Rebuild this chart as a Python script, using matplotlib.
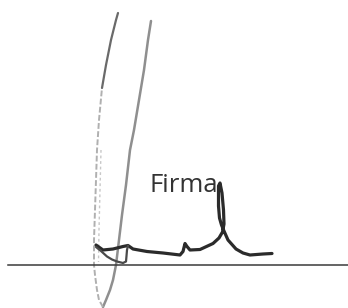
import matplotlib
matplotlib.use('Agg')
import matplotlib.pyplot as plt

# signature label and baseline
label_text = "Firma"
line_x = [8, 348]
line_y = [265, 265]

# pencil loop (light grey), image pixel coords, y down
pencil_right_x = [151, 148, 144, 139, 134, 130, 126, 122, 119, 116, 113, 110, 106, 103]
pencil_right_y = [21, 40, 70, 100, 130, 150, 185, 215, 240, 265, 280, 290, 300, 307]
pencil_low_x = [103, 99, 97, 95, 94, 94, 95, 96, 97, 99, 102]
pencil_low_y = [307, 300, 290, 275, 265, 240, 210, 180, 150, 120, 88]
pencil_top_x = [102, 106, 111, 116, 118]
pencil_top_y = [88, 65, 40, 20, 13]
pencil_inner_x = [101, 100, 99, 98.5]
pencil_inner_y = [150, 190, 230, 262]

# ink stroke (dark)
ink_x = [96, 103, 113, 123, 128, 133, 147, 163, 180, 183, 185, 187, 190, 200,
         213, 219, 222.5, 224, 223.5, 222, 220, 218.5, 218.5, 219.5, 221.5, 224,
         228, 236, 243, 250, 263, 272]
ink_y = [245, 250, 249, 246.5, 245.5, 249, 251.5, 253, 255, 251.5, 243.5, 246.5,
         250, 249.5, 243.5, 238, 232, 224, 210, 193, 183, 186, 206, 218, 225, 231,
         240, 249, 253, 255, 254, 253.5]
ink_low_x = [96, 101, 107, 112, 117, 123, 126, 126.5, 127, 128]
ink_low_y = [247, 251, 256.5, 259.5, 261.5, 263, 261.5, 256, 250, 245.5]

fig = plt.figure(figsize=(3.48, 3.08), dpi=100)
ax = fig.add_axes([0, 0, 1, 1])
ax.set_xlim(0, 348)
ax.set_ylim(308, 0)
ax.axis('off')

ax.plot(pencil_right_x, pencil_right_y, color='#8f8f8f', lw=1.8, solid_capstyle='round')
ax.plot(pencil_low_x, pencil_low_y, color='#b0b0b0', lw=1.4, ls=(0, (3, 1.2)))
ax.plot(pencil_top_x, pencil_top_y, color='#6a6a6a', lw=1.6, solid_capstyle='round')
ax.plot(pencil_inner_x, pencil_inner_y, color='#c8c8c8', lw=1.0, ls=(0, (2, 2)))

ax.plot(line_x, line_y, color='#3a3a3a', lw=1.1)

ax.plot(ink_x, ink_y, color='#2b2b2b', lw=2.3, solid_joinstyle='round', solid_capstyle='round')
ax.plot(ink_low_x, ink_low_y, color='#4a4a4a', lw=1.6, solid_joinstyle='round', solid_capstyle='round')

ax.text(150, 192, label_text, fontsize=18.5, family=['Open Sans', 'DejaVu Sans'],
        color='#333333', ha='left', va='baseline')

fig.savefig('out.png', dpi=100, facecolor='white')
